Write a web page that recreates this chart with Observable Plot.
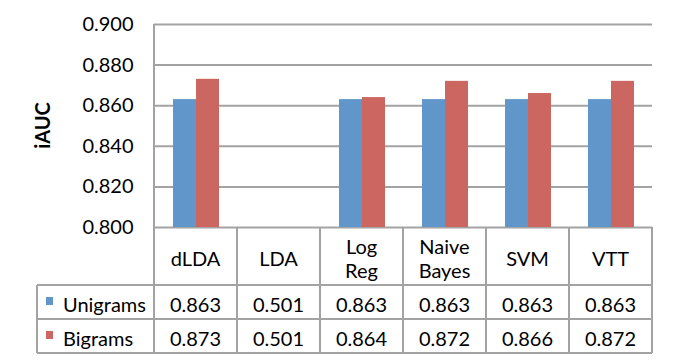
<!DOCTYPE html>
<html><head><meta charset="utf-8">
<script src="https://cdn.jsdelivr.net/npm/d3@7"></script>
<script src="https://cdn.jsdelivr.net/npm/@observablehq/plot@0.6"></script>
<style>
body{margin:0;background:#fff;}
#chart svg{display:block;}
</style></head><body><div id="chart"></div>
<script>
// ---- data ----
const methods = ["dLDA", "LDA", "Log\nReg", "Naive\nBayes", "SVM", "VTT"];
const series = ["Unigrams", "Bigrams"];
const unigrams = [0.863, 0.501, 0.863, 0.863, 0.863, 0.863];
const bigrams = [0.873, 0.501, 0.864, 0.872, 0.866, 0.872];
const yTicks = [0.800, 0.820, 0.840, 0.860, 0.880, 0.900];
const yLabel = "iAUC";
const colors = ["#6096CA", "#CC6661"];

const values = {Unigrams: unigrams, Bigrams: bigrams};
const rows = methods.flatMap((m, i) => series.map(s => ({method: m, series: s, value: values[s][i]})));

const font = "Lato, 'Open Sans', sans-serif";
const fs = 20;
const grey = "#A3A3A3";

const chart = Plot.plot({
  width: 677, height: 364,
  marginLeft: 153, marginRight: 25, marginTop: 24, marginBottom: 137,
  style: {fontFamily: font, fontSize: fs + "px", color: "#000", background: "#fff"},
  facet: {data: rows, x: "method"},
  fx: {domain: methods, padding: 0, axis: null},
  x: {domain: series, paddingInner: 0, paddingOuter: 0.73, axis: null},
  y: {domain: [0.8, 0.9], ticks: yTicks, tickFormat: d3.format(".3f"), tickSize: 0, tickPadding: 21, label: null},
  color: {domain: series, range: colors},
  marks: [
    Plot.ruleY(yTicks, {stroke: grey, strokeWidth: 2}),
    Plot.barY(rows, {x: "series", y1: 0.8, y2: "value", fill: "series", clip: true})
  ]
});
document.getElementById("chart").appendChild(chart);

// ---- data table drawn with the plot's own scales ----
const svg = d3.select(chart);
const fx = chart.scale("fx");
const ys = chart.scale("y");
const edges = methods.map(m => fx.apply(m));
edges.push(edges[edges.length - 1] + fx.bandwidth);
const yBase = ys.apply(0.8);
const yTop = ys.apply(0.9);
const rowLines = [yBase + 58, yBase + 92, yBase + 126];
const legendLeft = 37;

const g = svg.append("g").attr("stroke", grey).attr("stroke-width", 2).attr("fill", "none");
edges.forEach((x, i) => {
  g.append("line").attr("x1", x).attr("x2", x)
    .attr("y1", i === 0 ? yTop : yBase).attr("y2", rowLines[2]);
});
g.append("line").attr("x1", legendLeft).attr("x2", legendLeft).attr("y1", rowLines[0]).attr("y2", rowLines[2]);
rowLines.forEach(y => {
  g.append("line").attr("x1", legendLeft).attr("x2", edges[edges.length - 1]).attr("y1", y).attr("y2", y);
});

const t = svg.append("g").attr("font-family", font).attr("font-size", fs).attr("fill", "#000").attr("text-anchor", "middle");
methods.forEach((m, i) => {
  const cx = fx.apply(m) + fx.bandwidth / 2;
  const lines = m.split("\n");
  const txt = t.append("text").attr("x", cx);
  if (lines.length === 1) {
    txt.attr("y", yBase + 38.5).text(lines[0]);
  } else {
    lines.forEach((l, j) => txt.append("tspan").attr("x", cx).attr("y", yBase + 27 + j * 24).text(l));
  }
  series.forEach((s, k) => {
    t.append("text").attr("x", cx).attr("y", rowLines[k] + 27).text(values[s][i].toFixed(3));
  });
});
const lg = svg.append("g").attr("font-family", font).attr("font-size", fs).attr("fill", "#000").attr("text-anchor", "start");
series.forEach((s, k) => {
  lg.append("rect").attr("x", 46).attr("y", rowLines[k] + 12).attr("width", 7).attr("height", 8).attr("fill", colors[k]);
  lg.append("text").attr("x", 63).attr("y", rowLines[k] + 27).text(s);
});
svg.append("text")
  .attr("transform", `translate(42,${(yTop + yBase) / 2}) rotate(-90)`)
  .attr("text-anchor", "middle").attr("dominant-baseline", "central")
  .attr("font-family", font).attr("font-size", fs).attr("font-weight", "bold").attr("fill", "#000")
  .text(yLabel);
</script>
</body></html>
